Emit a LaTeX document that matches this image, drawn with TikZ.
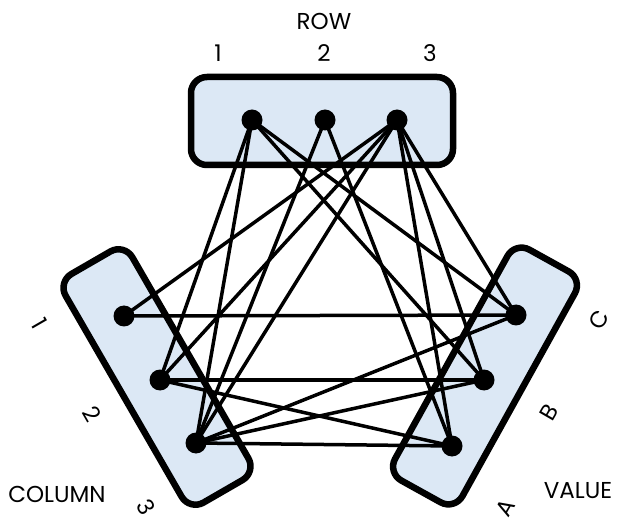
\documentclass[tikz,border=0pt]{standalone}
\usepackage{fontspec}
\setmainfont{Poppins}
\definecolor{boxfill}{RGB}{220,232,245}
\begin{document}
\begin{tikzpicture}[x=1pt,y=-1pt,
  dot/.style={circle,fill=black,inner sep=0pt,minimum size=21pt},
  edge/.style={line width=3.5pt},
  boxfillsty/.style={fill=boxfill,draw=none,rounded corners=16pt},
  boxline/.style={draw=black,line width=6.5pt,rounded corners=16pt},
  lbl/.style={font=\fontsize{23}{23}\selectfont,inner sep=0pt}]
\useasboundingbox (0,0) rectangle (632,529);
% box fills
\fill[boxfill,rounded corners=16pt] (191,77) rectangle (453,165);
\node[boxfillsty,rotate=-60,minimum width=264pt,minimum height=77pt] (colbox) at (157,377) {};
\node[boxfillsty,rotate=61,minimum width=264pt,minimum height=77pt] (valbox) at (485,376) {};
% nodes (coordinates)
\coordinate (R1) at (252,120);
\coordinate (R2) at (325,120);
\coordinate (R3) at (397,120);
\coordinate (C1) at (124,316);
\coordinate (C2) at (160,380);
\coordinate (C3) at (196,443);
\coordinate (VA) at (452,446);
\coordinate (VB) at (484,380);
\coordinate (VC) at (516,315);
% edges
\foreach \a/\b in {R1/C2,R1/C3,R2/C3,R3/C1,R3/C2,R3/C3,
                   C1/VC,C2/VB,C2/VA,C3/VA,C3/VB,C3/VC,
                   R1/VC,R1/VB,R2/VA,R3/VA,R3/VB,R3/VC}
  \draw[edge] (\a) -- (\b);
% box borders
\draw[line width=6.5pt,rounded corners=16pt] (191,77) rectangle (453,165);
\node[boxline,rotate=-60,minimum width=264pt,minimum height=77pt] at (157,377) {};
\node[boxline,rotate=61,minimum width=264pt,minimum height=77pt] at (485,376) {};
% dots
\foreach \n in {R1,R2,R3,C1,C2,C3,VA,VB,VC}
  \node[dot] (d\n) at (\n) {};
% labels
\node[lbl] (trow) at (324,21) {ROW};
\node[lbl] (tr1) at (218,53) {1};
\node[lbl] (tr2) at (324,53) {2};
\node[lbl] (tr3) at (430,53) {3};
\node[lbl] (tcol) at (57,494) {COLUMN};
\node[lbl,rotate=-60] (tc1) at (40,324) {1};
\node[lbl,rotate=-60] (tc2) at (92,414) {2};
\node[lbl,rotate=-60] (tc3) at (146,507) {3};
\node[lbl] (tval) at (578,491) {VALUE};
\node[lbl,rotate=60] (tvc) at (599,320) {C};
\node[lbl,rotate=60] (tvb) at (549,412) {B};
\node[lbl,rotate=60] (tva) at (505,508) {A};
\end{tikzpicture}
\end{document}
